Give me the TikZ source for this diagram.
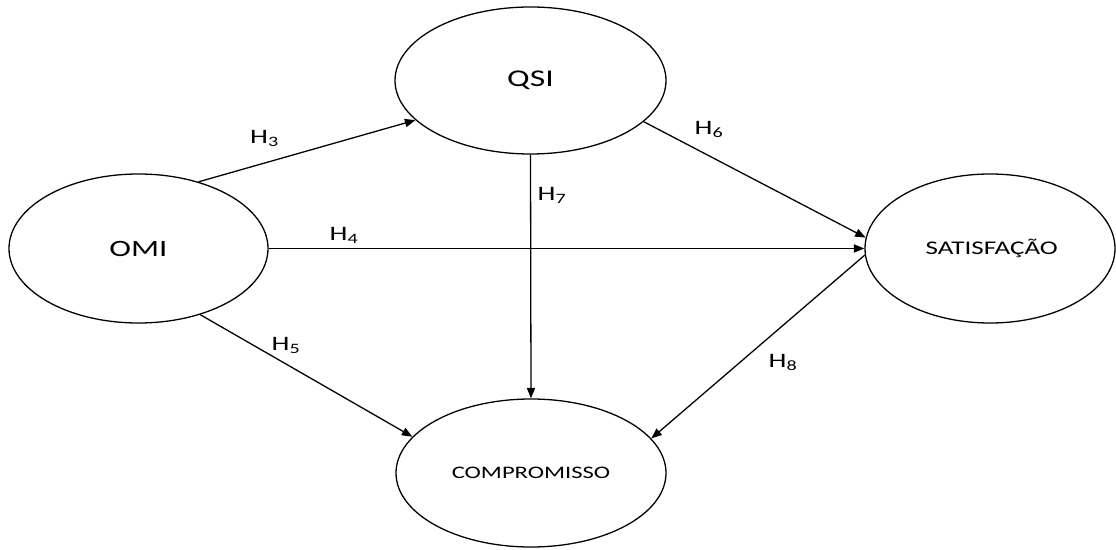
\documentclass[tikz,border=0pt]{standalone}
\usepackage{fontspec}
\setmainfont[FakeStretch=1.4]{Carlito}
\usetikzlibrary{shapes.geometric,arrows.meta}
\begin{document}
\begin{tikzpicture}[x=0.3mm,y=-0.3mm,
  construct/.style={ellipse,draw,line width=1.1pt,inner sep=0pt},
  path/.style={line width=1.1pt,-{Triangle[length=9pt,width=7pt]}},
  hyp/.style={font=\fontsize{17.5}{20}\selectfont,inner sep=0pt}]
\useasboundingbox (0,0) rectangle (1116,550);
\node[construct,minimum width=81.3mm,minimum height=44.1mm,font=\fontsize{20.5}{24}\selectfont] (qsi) at (530.5,80.5) {QSI};
\node[construct,minimum width=77.7mm,minimum height=44.7mm,font=\fontsize{20}{24}\selectfont] (omi) at (138.5,248.5) {OMI};
\node[construct,minimum width=75mm,minimum height=44.7mm,font=\fontsize{16.5}{18}\selectfont] (sat) at (990,248.5) {\hspace*{3pt}SATISFAÇÃO};
\node[construct,minimum width=81mm,minimum height=44.4mm,font=\fontsize{15}{18}\selectfont] (comp) at (531,473) {COMPROMISSO};
\draw[path] (omi.48.6) -- (qsi.199.3);
\draw[path] (omi.east) -- (sat.west);
\draw[path] (omi.313.2) -- (comp.163.9);
\draw[path] (qsi.340.2) -- (sat.175);
\draw[path] (qsi.south) -- (comp.north);
\draw[path] (sat.183) -- (comp.16.6);
\node[hyp] (h3) at (264.5,138) {H\textsubscript{3}};
\node[hyp] (h4) at (344,235) {H\textsubscript{4}};
\node[hyp] (h5) at (286,345) {H\textsubscript{5}};
\node[hyp] (h6) at (709,129) {H\textsubscript{6}};
\node[hyp] (h7) at (552,195) {H\textsubscript{7}};
\node[hyp] (h8) at (783,362) {H\textsubscript{8}};
\end{tikzpicture}
\end{document}
